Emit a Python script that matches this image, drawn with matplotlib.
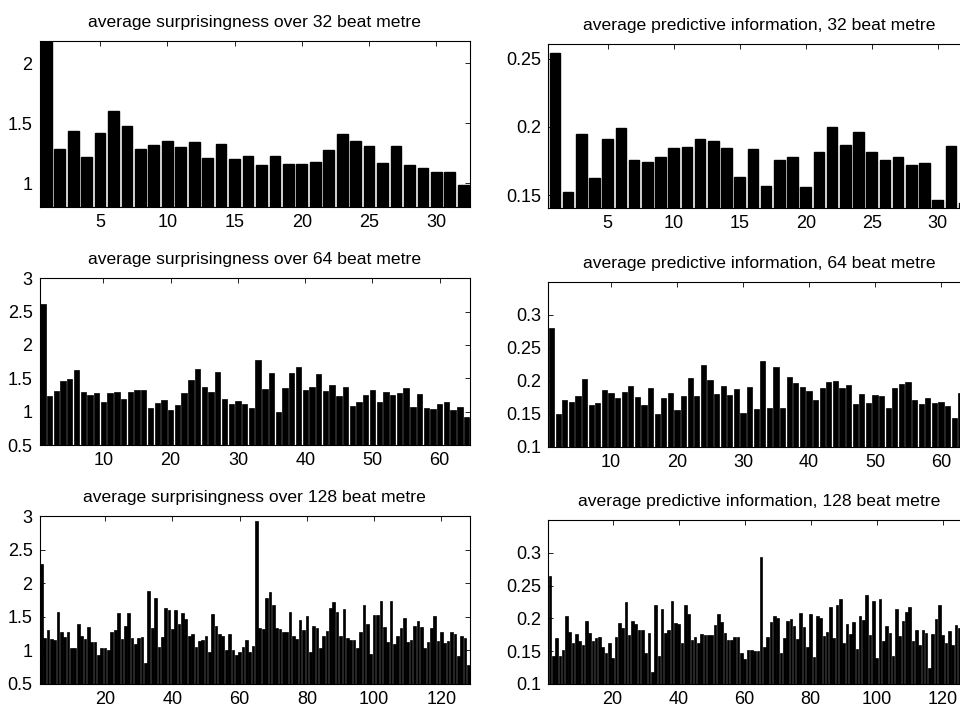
import numpy as np
import matplotlib
matplotlib.use("Agg")
import matplotlib.pyplot as plt
from matplotlib.ticker import FuncFormatter

plt.rcParams["font.family"] = ["Liberation Sans", "DejaVu Sans"]

# ------------------------------------------------------
# Dados (um valor por tempo do compasso)
# ------------------------------------------------------
surp_32 = [2.18, 1.286, 1.439, 1.222, 1.422, 1.60, 1.478, 1.289, 1.319, 1.353,
           1.303, 1.347, 1.214, 1.331, 1.20, 1.228, 1.15, 1.231, 1.161, 1.161,
           1.175, 1.281, 1.408, 1.35, 1.314, 1.172, 1.314, 1.153, 1.131, 1.092,
           1.092, 0.983]

pi_32 = [0.2539, 0.1527, 0.1951, 0.1625, 0.1909, 0.1995, 0.1762, 0.1745, 0.1779, 0.1848,
         0.1850, 0.1909, 0.1895, 0.1843, 0.1632, 0.1836, 0.1566, 0.1755, 0.1779, 0.1561,
         0.1819, 0.1998, 0.1870, 0.1961, 0.1819, 0.1762, 0.1779, 0.1725, 0.1740, 0.1466,
         0.1858, 0.1441]

surp_64 = [2.61, 1.24, 1.31, 1.46, 1.495, 1.625, 1.295, 1.255, 1.275, 1.14,
           1.285, 1.295, 1.195, 1.30, 1.325, 1.32, 1.055, 1.135, 1.175, 1.025,
           1.10, 1.28, 1.47, 1.64, 1.37, 1.29, 1.595, 1.185, 1.12, 1.165,
           1.11, 1.05, 1.78, 1.34, 1.585, 0.99, 1.36, 1.585, 1.665, 1.33,
           1.375, 1.57, 1.315, 1.40, 1.24, 1.365, 1.08, 1.14, 1.245, 1.33,
           1.15, 1.30, 1.245, 1.285, 1.35, 1.075, 1.26, 1.055, 1.04, 1.12,
           1.145, 1.025, 1.07, 0.925]

pi_64 = [0.2797, 0.1496, 0.1709, 0.1684, 0.1775, 0.2033, 0.1638, 0.1663, 0.1866, 0.1815,
         0.1739, 0.1830, 0.1922, 0.1759, 0.1638, 0.1891, 0.1496, 0.1739, 0.1810, 0.1562,
         0.1765, 0.2048, 0.1770, 0.2235, 0.2008, 0.1800, 0.1916, 0.1785, 0.1881, 0.1511,
         0.1906, 0.1572, 0.2291, 0.1582, 0.2210, 0.1592, 0.2058, 0.1972, 0.1906, 0.1846,
         0.1709, 0.1891, 0.1977, 0.2003, 0.1886, 0.1937, 0.1648, 0.1800, 0.1668, 0.1790,
         0.1770, 0.1582, 0.1886, 0.1957, 0.1982, 0.1704, 0.1643, 0.1744, 0.1668, 0.1678,
         0.1618, 0.1435, 0.1815, 0.1600]

surp_128 = [2.29, 1.18, 1.31, 1.17, 1.15, 1.57, 1.27, 1.20, 1.27, 1.04,
            1.04, 1.39, 1.22, 1.17, 1.35, 1.13, 1.13, 0.93, 1.03, 1.03,
            1.00, 1.27, 1.30, 1.56, 1.17, 1.37, 1.56, 1.19, 1.10, 1.19,
            1.20, 0.82, 1.88, 1.33, 1.78, 1.05, 1.20, 1.64, 1.61, 1.32,
            1.61, 1.40, 1.56, 1.47, 1.22, 1.25, 1.05, 1.14, 1.15, 1.22,
            0.98, 1.55, 1.37, 1.25, 1.22, 1.00, 1.25, 1.00, 0.93, 0.98,
            1.05, 1.16, 0.98, 1.07, 2.93, 1.33, 1.32, 1.78, 1.87, 1.68,
            1.33, 1.32, 1.28, 1.27, 1.57, 1.21, 1.17, 1.45, 1.30, 1.52,
            0.98, 1.37, 1.34, 1.04, 1.22, 1.29, 1.64, 1.72, 1.58, 1.22,
            1.62, 1.19, 1.15, 1.15, 1.04, 1.28, 1.68, 1.39, 0.94, 1.53,
            1.53, 1.73, 1.35, 1.13, 1.74, 1.09, 1.21, 1.34, 1.49, 1.12,
            1.16, 1.37, 1.44, 1.35, 1.03, 1.12, 1.33, 1.52, 1.14, 1.27,
            1.11, 1.14, 1.27, 1.24, 0.91, 1.22, 1.18, 0.79]

pi_128 = [0.265, 0.142, 0.170, 0.142, 0.152, 0.204, 0.180, 0.163, 0.176, 0.165,
          0.160, 0.196, 0.177, 0.165, 0.170, 0.172, 0.157, 0.147, 0.162, 0.139,
          0.172, 0.193, 0.185, 0.225, 0.174, 0.196, 0.191, 0.182, 0.182, 0.148,
          0.178, 0.118, 0.221, 0.142, 0.215, 0.177, 0.182, 0.227, 0.193, 0.191,
          0.163, 0.220, 0.207, 0.167, 0.171, 0.163, 0.176, 0.174, 0.175, 0.175,
          0.190, 0.206, 0.194, 0.177, 0.167, 0.167, 0.172, 0.172, 0.147, 0.138,
          0.152, 0.152, 0.150, 0.150, 0.293, 0.157, 0.171, 0.194, 0.204, 0.201,
          0.147, 0.170, 0.196, 0.199, 0.188, 0.168, 0.208, 0.187, 0.157, 0.206,
          0.141, 0.203, 0.201, 0.173, 0.180, 0.218, 0.170, 0.221, 0.229, 0.163,
          0.191, 0.176, 0.194, 0.154, 0.204, 0.197, 0.236, 0.175, 0.227, 0.140,
          0.229, 0.166, 0.188, 0.178, 0.142, 0.215, 0.173, 0.196, 0.210, 0.217,
          0.166, 0.182, 0.160, 0.182, 0.178, 0.124, 0.176, 0.199, 0.221, 0.175,
          0.162, 0.181, 0.160, 0.190, 0.186, 0.170, 0.180, 0.160]

titles = [
    "average surprisingness over 32 beat metre",
    "average predictive information, 32 beat metre",
    "average surprisingness over 64 beat metre",
    "average predictive information, 64 beat metre",
    "average surprisingness over 128 beat metre",
    "average predictive information, 128 beat metre",
]

xticks_32 = [5, 10, 15, 20, 25, 30]
xticks_64 = [10, 20, 30, 40, 50, 60]
xticks_128 = [20, 40, 60, 80, 100, 120]

yticks_surp_32 = [1, 1.5, 2]
yticks_pi_32 = [0.15, 0.2, 0.25]
yticks_surp = [0.5, 1, 1.5, 2, 2.5, 3]
yticks_pi = [0.1, 0.15, 0.2, 0.25, 0.3]

# ------------------------------------------------------
# Layout (posições em pixels, estilo subplot do MATLAB)
# ------------------------------------------------------
W, H = 960, 706


def px_axes(fig, left, top, right, bottom):
    return fig.add_axes([left / W, 1 - bottom / H, (right - left) / W, (bottom - top) / H])


def bar_panel(ax, valores, titulo, xticks, yticks, ylim, lw=0.5):
    x = np.arange(1, len(valores) + 1)
    ax.bar(x, valores, width=0.8, color="black", edgecolor="black", linewidth=lw)
    ax.set_xlim(0.5, len(valores) + 0.5)
    ax.set_ylim(*ylim)
    ax.set_xticks(xticks)
    ax.set_yticks(yticks)
    ax.yaxis.set_major_formatter(FuncFormatter(lambda v, p: f"{v:g}"))
    ax.tick_params(direction="in", top=True, right=True, length=3.5, width=0.6,
                   labelsize=13, pad=5)
    for s in ax.spines.values():
        s.set_linewidth(0.8)
    ax.set_title(titulo, fontsize=12.6, pad=10)


fig = plt.figure(figsize=(W / 100, H / 100), dpi=100)

ax1 = px_axes(fig, 39.5, 41, 470, 206.7)
bar_panel(ax1, surp_32, titles[0], xticks_32, yticks_surp_32, (0.806, 2.186), lw=1.0)

ax2 = px_axes(fig, 548.3, 44.3, 970.7, 208.3)
bar_panel(ax2, pi_32, titles[1], xticks_32, yticks_pi_32, (0.1405, 0.2605), lw=1.0)

ax3 = px_axes(fig, 39.5, 278.3, 470, 445)
bar_panel(ax3, surp_64, titles[2], xticks_64, yticks_surp, (0.5, 3))

ax4 = px_axes(fig, 548.3, 281.7, 970.7, 446.7)
bar_panel(ax4, pi_64, titles[3], xticks_64, yticks_pi, (0.1, 0.35))

ax5 = px_axes(fig, 39.5, 516.3, 470, 684)
bar_panel(ax5, surp_128, titles[4], xticks_128, yticks_surp, (0.5, 3))

ax6 = px_axes(fig, 548.3, 520, 970.7, 684)
bar_panel(ax6, pi_128, titles[5], xticks_128, yticks_pi, (0.1, 0.35))

fig.savefig("out.png", dpi=100)
plt.close(fig)
